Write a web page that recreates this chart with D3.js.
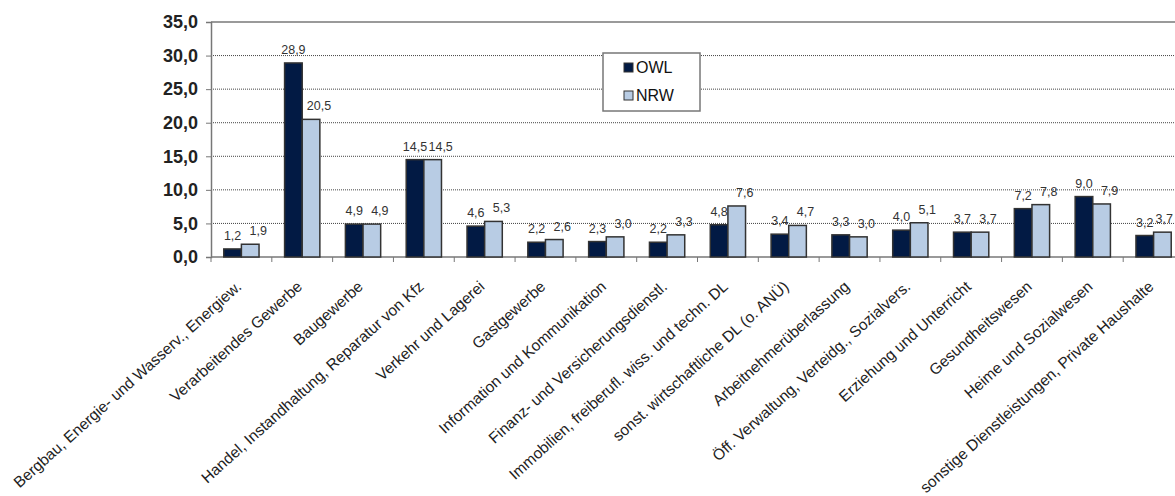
<!DOCTYPE html>
<html>
<head>
<meta charset="utf-8">
<script src="https://cdn.jsdelivr.net/npm/d3@7/dist/d3.min.js"></script>
<style>
  html, body { margin: 0; padding: 0; background: #fff; }
  svg { display: block; font-family: "Liberation Sans", Arial, sans-serif; }
</style>
</head>
<body>
<svg id="chart" width="1175" height="496"></svg>
<script>
// Branchenanteile OWL vs. NRW (in %)
const categories = [
  "Bergbau, Energie- und Wasserv., Energiew.",
  "Verarbeitendes Gewerbe",
  "Baugewerbe",
  "Handel, Instandhaltung, Reparatur von Kfz",
  "Verkehr und Lagerei",
  "Gastgewerbe",
  "Information und Kommunikation",
  "Finanz- und Versicherungsdienstl.",
  "Immobilien, freiberufl. wiss. und techn. DL",
  "sonst. wirtschaftliche DL (o. ANÜ)",
  "Arbeitnehmerüberlassung",
  "Öff. Verwaltung, Verteidg., Sozialvers.",
  "Erziehung und Unterricht",
  "Gesundheitswesen",
  "Heime und Sozialwesen",
  "sonstige Dienstleistungen, Private Haushalte"
];
const seriesNames = ["OWL", "NRW"];
const owlValues = [1.2, 28.9, 4.9, 14.5, 4.6, 2.2, 2.3, 2.2, 4.8, 3.4, 3.3, 4.0, 3.7, 7.2, 9.0, 3.2];
const nrwValues = [1.9, 20.5, 4.9, 14.5, 5.3, 2.6, 3.0, 3.3, 7.6, 4.7, 3.0, 5.1, 3.7, 7.8, 7.9, 3.7];
const yTicks = [0, 5, 10, 15, 20, 25, 30, 35];

const colors = { OWL: "#021a44", NRW: "#b8cce4" };
const fmt = v => d3.format(".1f")(v).replace(".", ",");

const W = 1175;
const svg = d3.select("#chart");
const margin = { left: 211, right: 1184, top: 22, bottom: 257 };

const x = d3.scaleBand().domain(categories).range([margin.left, margin.right]).paddingInner(0.42).paddingOuter(0.21);
const x1 = d3.scaleBand().domain(seriesNames).range([0, x.bandwidth()]);
const y = d3.scaleLinear().domain([0, 35]).range([margin.bottom, margin.top]);

// gridlines
svg.append("g").selectAll("line")
  .data(yTicks.filter(t => t > 0 && t < 35))
  .join("line")
  .attr("x1", margin.left).attr("x2", margin.right)
  .attr("y1", d => y(d)).attr("y2", d => y(d))
  .attr("stroke", "#444").attr("stroke-width", 1)
  .attr("stroke-dasharray", "1,1");
svg.append("line")
  .attr("x1", margin.left).attr("x2", margin.right)
  .attr("y1", y(35)).attr("y2", y(35))
  .attr("stroke", "#9a9a9a").attr("stroke-width", 2);

// y axis
const yAxis = svg.append("g")
  .attr("transform", `translate(${margin.left},0)`)
  .call(d3.axisLeft(y).tickValues(yTicks).tickFormat(fmt).tickSize(5).tickPadding(8));
yAxis.select(".domain").attr("stroke", "#777").attr("stroke-width", 1.5);
yAxis.selectAll(".tick line").attr("stroke", "#777");
yAxis.selectAll(".tick text")
  .attr("font-size", 18).attr("font-weight", "bold").attr("fill", "#222")
  .attr("font-family", "'Liberation Sans', Arial, sans-serif");

// x axis line and boundary ticks
svg.append("line")
  .attr("x1", margin.left).attr("x2", margin.right)
  .attr("y1", margin.bottom).attr("y2", margin.bottom)
  .attr("stroke", "#777").attr("stroke-width", 1.5);
svg.append("g").selectAll("line")
  .data(categories)
  .join("line")
  .attr("x1", d => x(d) - x.step() * x.paddingInner() / 2)
  .attr("x2", d => x(d) - x.step() * x.paddingInner() / 2)
  .attr("y1", margin.bottom).attr("y2", margin.bottom + 5)
  .attr("stroke", "#777");

// bars
const rows = categories.map((c, i) => ({ c, OWL: owlValues[i], NRW: nrwValues[i] }));
const groups = svg.append("g").selectAll("g")
  .data(rows)
  .join("g")
  .attr("transform", d => `translate(${x(d.c)},0)`);

groups.selectAll("rect")
  .data(d => seriesNames.map(k => ({ k, v: d[k] })))
  .join("rect")
  .attr("x", d => x1(d.k))
  .attr("y", d => y(d.v))
  .attr("width", x1.bandwidth())
  .attr("height", d => y(0) - y(d.v))
  .attr("fill", d => colors[d.k])
  .attr("stroke", "#333").attr("stroke-width", 1.5);

// value labels (NRW labels sit slightly to the right, but never past the edge)
groups.selectAll("text")
  .data(d => seriesNames.map(k => ({ k, v: d[k], c: d.c })))
  .join("text")
  .attr("y", d => y(d.v) - 9)
  .attr("text-anchor", "middle")
  .attr("font-size", 12.5)
  .attr("fill", "#333")
  .text(d => fmt(d.v))
  .attr("x", function(d) {
    const cx = x1(d.k) + x1.bandwidth() / 2 + (d.k === "NRW" ? 8 : 0);
    const half = this.getComputedTextLength() / 2;
    const maxX = W - 2 - half - x(d.c);
    return Math.min(cx, maxX);
  });

// category labels
svg.append("g").selectAll("text")
  .data(categories)
  .join("text")
  .attr("transform", d => `translate(${x(d) + x.bandwidth() / 2 + 1},${margin.bottom + 31}) rotate(-42)`)
  .attr("text-anchor", "end")
  .attr("font-size", 15.5)
  .attr("fill", "#222")
  .text(d => d);

// legend
const lg = svg.append("g").attr("transform", "translate(603,53)");
lg.append("rect").attr("width", 97).attr("height", 58)
  .attr("fill", "#fff").attr("stroke", "#777").attr("stroke-width", 1.5);
seriesNames.forEach((k, i) => {
  const row = lg.append("g").attr("transform", `translate(21,${10 + i * 28})`);
  row.append("rect").attr("width", 9).attr("height", 9)
    .attr("fill", colors[k]).attr("stroke", "#333").attr("stroke-width", 1);
  row.append("text").attr("x", 12).attr("y", 10)
    .attr("font-size", 16).attr("fill", "#111").text(k);
});
</script>
</body>
</html>
